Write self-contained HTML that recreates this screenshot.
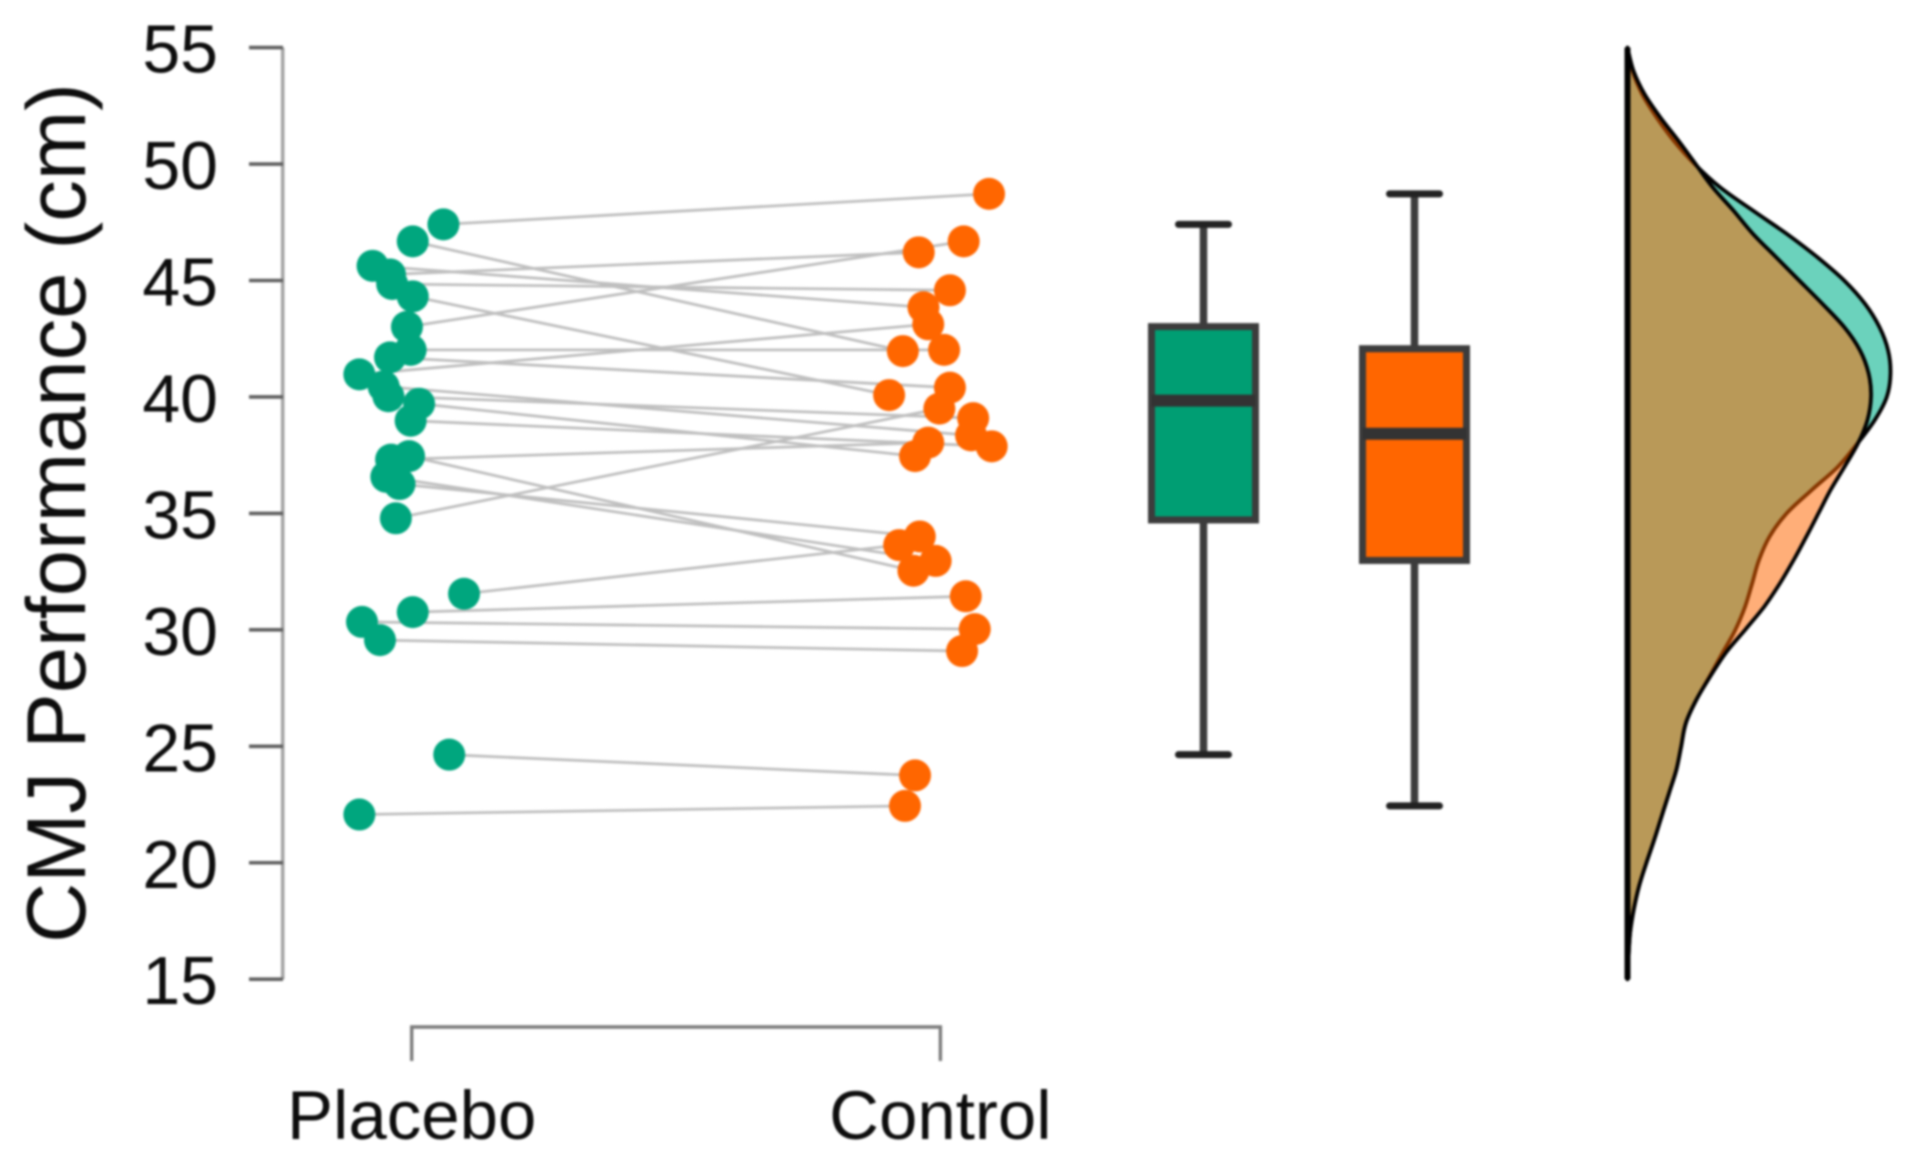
<!DOCTYPE html>
<html lang="en">
<head>
<meta charset="utf-8">
<title>CMJ Performance raincloud plot</title>
<style>
html,body{margin:0;padding:0;background:#fff;width:1910px;height:1162px;overflow:hidden}
svg{display:block;filter:blur(1px)}
text{font-family:"Liberation Sans",Arial,sans-serif;fill:#0d0d0d}
</style>
</head>
<body>
<svg id="chart" xmlns="http://www.w3.org/2000/svg" width="1910" height="1162" viewBox="0 0 1910 1162">
<text transform="translate(85,513) rotate(-90)" text-anchor="middle" font-size="83.2">CMJ Performance (cm)</text>
</svg>
<script>
const yTicks = [15, 20, 25, 30, 35, 40, 45, 50, 55];
const categories = ['Placebo', 'Control'];
const placeboValues = [47.41, 46.68, 45.63, 45.26, 44.85, 44.32, 43.01, 42.02, 41.7, 40.97, 40.45, 40.03, 39.71, 38.98, 37.31, 37.46, 36.57, 36.26, 34.79, 31.55, 30.76, 30.34, 29.56, 24.64, 22.07];
const controlValues = [48.72, 41.97, 43.85, 46.21, 44.58, 40.08, 46.68, 42.02, 40.4, 43.12, 38.35, 39.09, 37.46, 37.88, 38.04, 32.54, 32.96, 34.01, 39.5, 33.64, 31.44, 30.03, 29.09, 23.75, 22.44];
const placeboJitter = [0.06, 0.002, -0.074, -0.041, -0.037, 0.002, -0.009, -0.002, -0.041, -0.099, -0.053, -0.044, 0.014, -0.002, -0.039, -0.005, -0.048, -0.023, -0.03, 0.099, 0.002, -0.094, -0.06, 0.071, -0.099];
const controlJitter = [0.092, -0.071, -0.032, -0.041, 0.018, -0.097, 0.044, 0.007, 0.018, -0.023, 0.058, 0.062, -0.048, 0.097, -0.023, -0.051, -0.009, -0.039, -0.002, -0.078, 0.048, 0.065, 0.041, -0.048, -0.067];
const placeboBox = { low: 24.64, q1: 34.72, median: 39.84, q3: 43.02, high: 47.41 };
const controlBox = { low: 22.44, q1: 32.98, median: 38.42, q3: 42.07, high: 48.72 };
const densityGrid = [55, 54, 53, 52, 51, 50, 49, 48, 47, 46, 45, 44, 43, 42, 41, 40, 39, 38, 37, 36, 35, 34, 33, 32, 31, 30, 29, 28, 27, 26, 25, 24, 23, 22, 21, 20, 19, 18, 17, 16, 15];
const placeboDensity = [0, 0.019, 0.056, 0.111, 0.176, 0.255, 0.352, 0.477, 0.606, 0.722, 0.824, 0.903, 0.958, 0.991, 1, 0.986, 0.94, 0.874, 0.8, 0.7, 0.605, 0.54, 0.5, 0.474, 0.447, 0.41, 0.361, 0.312, 0.262, 0.222, 0.204, 0.186, 0.158, 0.13, 0.102, 0.072, 0.044, 0.024, 0.01, 0.004, 0];
const controlDensity = [0, 0.023, 0.065, 0.125, 0.194, 0.259, 0.324, 0.403, 0.477, 0.565, 0.653, 0.741, 0.824, 0.884, 0.917, 0.926, 0.912, 0.876, 0.825, 0.772, 0.726, 0.68, 0.632, 0.58, 0.52, 0.447, 0.373, 0.315, 0.262, 0.222, 0.204, 0.186, 0.158, 0.13, 0.102, 0.072, 0.044, 0.024, 0.01, 0.004, 0];

const svg = document.getElementById('chart');
const NS = 'http://www.w3.org/2000/svg';

function yScale(v) { return 47.6 + (55 - v) * 23.29; }
function xCat(p) { return 411.7 + (p - 1) * 528.7; }
function xBox(i) { return 1203.5 + i * 211; }
function xDensity(d) { return 1627.5 + d * 263; }

function make(tag, attrs, parent) {
  const el = document.createElementNS(NS, tag);
  for (const k in attrs) el.setAttribute(k, attrs[k]);
  (parent || svg).appendChild(el);
  return el;
}

/* y axis */
const yAxisLine = make('line', { x1: 282.7, x2: 282.7, y1: yScale(55), y2: yScale(15), stroke: '#a4a4a4', 'stroke-width': 3.6 });


yTicks.forEach(function (t) {
  const tick = make('line', { x1: 249, x2: 283, y1: yScale(t), y2: yScale(t), stroke: '#606060', 'stroke-width': 3.6 });
  
  
  const label = make('text', { x: 218, y: yScale(t) + 25, 'text-anchor': 'end', 'font-size': 68 });
  
  
  label.textContent = t;
});

/* x axis bracket */
const bracket = make('path', { d: 'M' + xCat(1) + ' 1061V1027H' + xCat(2) + 'V1061', fill: 'none', stroke: '#7c7c7c', 'stroke-width': 3.4 });


categories.forEach(function (c, i) {
  const label = make('text', { x: xCat(i + 1), y: 1139, 'text-anchor': 'middle', 'font-size': 69 });
  
  
  label.textContent = c;
});

/* paired lines */
placeboValues.forEach(function (v, i) {
  const link = make('line', {
    x1: xCat(1 + placeboJitter[i]), y1: yScale(v),
    x2: xCat(2 + controlJitter[i]), y2: yScale(controlValues[i]),
    stroke: '#bfbfbf', 'stroke-width': 2.8
  });
  
  
});

/* points */
placeboValues.forEach(function (v, i) {
  const dot = make('circle', { cx: xCat(1 + placeboJitter[i]), cy: yScale(v), r: 16, fill: '#00a67e' });
  
  
});
controlValues.forEach(function (v, i) {
  const dot = make('circle', { cx: xCat(2 + controlJitter[i]), cy: yScale(v), r: 16, fill: '#ff6600' });
  
  
});

/* box plots */
[[placeboBox, '#009e73', 'placebo'], [controlBox, '#ff6600', 'control']].forEach(function (b, i) {
  const s = b[0];
  const cx = xBox(i);
  const halfBox = 52;
  const halfCap = 25;
  const whisker = make('line', { x1: cx, x2: cx, y1: yScale(s.high), y2: yScale(s.low), stroke: '#3c3c3c', 'stroke-width': 7.5 });
  
  
  const capHigh = make('line', { x1: cx - halfCap, x2: cx + halfCap, y1: yScale(s.high), y2: yScale(s.high), stroke: '#222', 'stroke-width': 7, 'stroke-linecap': 'round' });
  
  
  const capLow = make('line', { x1: cx - halfCap, x2: cx + halfCap, y1: yScale(s.low), y2: yScale(s.low), stroke: '#222', 'stroke-width': 7, 'stroke-linecap': 'round' });
  
  
  const box = make('rect', { x: cx - halfBox, y: yScale(s.q3), width: halfBox * 2, height: yScale(s.q1) - yScale(s.q3), fill: b[1], stroke: '#3c3c3c', 'stroke-width': 7 });
  
  
  const med = make('line', { x1: cx - halfBox, x2: cx + halfBox, y1: yScale(s.median), y2: yScale(s.median), stroke: '#333', 'stroke-width': 12 });
  
  
});

/* density clouds */
function densityPath(values) {
  const pts = values.map(function (d, i) { return [xDensity(d), yScale(densityGrid[i])]; });
  let p = 'M' + xDensity(0) + ' ' + pts[0][1].toFixed(1);
  for (let i = 0; i < pts.length - 1; i++) {
    const a = pts[Math.max(i - 1, 0)], b = pts[i], c = pts[i + 1], e = pts[Math.min(i + 2, pts.length - 1)];
    p += 'C' + (b[0] + (c[0] - a[0]) / 6).toFixed(1) + ' ' + (b[1] + (c[1] - a[1]) / 6).toFixed(1) + ' ' +
      (c[0] - (e[0] - b[0]) / 6).toFixed(1) + ' ' + (c[1] - (e[1] - b[1]) / 6).toFixed(1) + ' ' +
      c[0].toFixed(1) + ' ' + c[1].toFixed(1);
  }
  return p + 'Z';
}
const placeboCloud = make('path', { d: densityPath(placeboDensity), fill: '#6bd2bc', stroke: '#000', 'stroke-width': 3.8, 'stroke-linejoin': 'round' });


const controlCloud = make('path', { d: densityPath(controlDensity), fill: 'rgba(255,102,0,0.53)', stroke: '#000', 'stroke-width': 3.8, 'stroke-linejoin': 'round' });


const densityBase = make('line', { x1: xDensity(0), x2: xDensity(0), y1: yScale(55), y2: yScale(15), stroke: '#000', 'stroke-width': 6 });


</script>
</body>
</html>
